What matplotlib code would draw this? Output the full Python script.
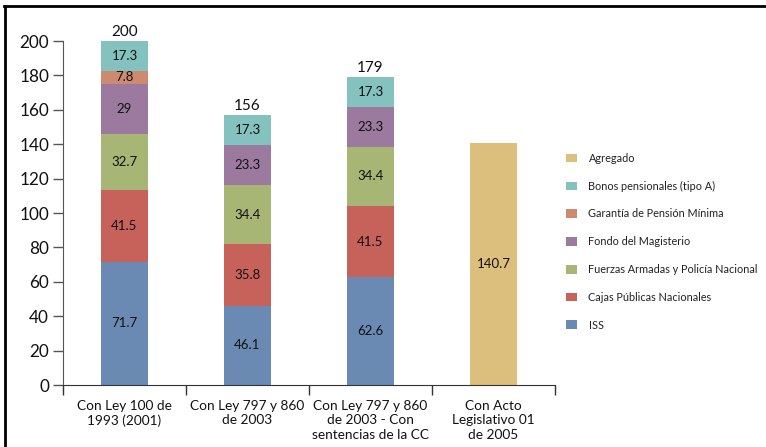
import matplotlib
matplotlib.use("Agg")
import matplotlib.pyplot as plt
from matplotlib.lines import Line2D
import numpy as np

plt.rcParams['font.family'] = ['Lato', 'DejaVu Sans']

categories = ["Con Ley 100 de\n1993 (2001)", "Con Ley 797 y 860\nde 2003",
              "Con Ley 797 y 860\nde 2003 - Con\nsentencias de la CC",
              "Con Acto\nLegislativo 01\nde 2005"]
series_names = ["ISS", "Cajas Públicas Nacionales", "Fuerzas Armadas y Policía Nacional",
                "Fondo del Magisterio", "Garantía de Pensión Mínima",
                "Bonos pensionales (tipo A)", "Agregado"]
iss = [71.7, 46.1, 62.6, 0]
cajas = [41.5, 35.8, 41.5, 0]
fuerzas = [32.7, 34.4, 34.4, 0]
fondo = [29, 23.3, 23.3, 0]
garantia = [7.8, 0, 0, 0]
bonos = [17.3, 17.3, 17.3, 0]
agregado = [0, 0, 0, 140.7]
totals = ["200", "156", "179", ""]
yticks = [0, 20, 40, 60, 80, 100, 120, 140, 160, 180, 200]

colors = ["#6B8AB3", "#C7625A", "#A7B575", "#9C7AA0", "#CD8A6E", "#84C2C0", "#DCBF7C"]
series = [iss, cajas, fuerzas, fondo, garantia, bonos, agregado]

fig = plt.figure(figsize=(7.66, 4.47), dpi=100)
ax = fig.add_axes([63/766, 1-385/447, (555-63)/766, (385-41)/447])

x = np.arange(len(categories))
bottom = np.zeros(len(categories))
handles = []
for vals, name, c in zip(series, series_names, colors):
    vals = np.array(vals, dtype=float)
    bars = ax.bar(x, vals, width=0.39, bottom=bottom, color=c, label=name, linewidth=0)
    labels = [("%g" % v) if v > 0 else "" for v in vals]
    ax.bar_label(bars, labels=labels, label_type='center', fontsize=9.5, color="#111111")
    handles.append(bars)
    bottom += vals

for xi, (t, b) in enumerate(zip(totals, bottom)):
    if t:
        ax.text(xi, b + 1.2, t, ha='center', va='bottom', fontsize=11, color="#111111")

ax.set_xlim(-0.5, 3.5)
ax.set_ylim(0, 200)
ax.set_yticks(yticks)
ax.tick_params(axis='y', labelsize=12.3, length=7, width=1, color="#555555", pad=3,
               labelcolor="#111111")
ax.set_xticks([-0.5, 0.5, 1.5, 2.5, 3.5])
ax.set_xticklabels([])
ax.set_xticks(x, minor=True)
ax.set_xticklabels(categories, minor=True, fontsize=9.8, linespacing=1.22, color="#111111")
ax.tick_params(axis='x', which='major', length=7, width=1, color="#333333")
ax.tick_params(axis='x', which='minor', length=0, pad=11)
for s in ['top', 'right']:
    ax.spines[s].set_visible(False)
ax.spines['left'].set_color("#555555")
ax.spines['bottom'].set_color("#333333")

leg = fig.legend(handles[::-1], series_names[::-1], loc='upper left',
                 bbox_to_anchor=(556/766, 1-143/447), frameon=False,
                 labelspacing=1.55, handlelength=1.0, handleheight=0.85,
                 handletextpad=1.1, prop={'family': ['Lato', 'DejaVu Sans'], 'size': 7.8})
for t in leg.get_texts():
    t.set_color("#222222")

# frame lines
fig.add_artist(Line2D([4/766, 1], [1-6/447, 1-6/447], transform=fig.transFigure, color='black', lw=2))
fig.add_artist(Line2D([5/766, 5/766], [0, 1-6/447], transform=fig.transFigure, color='black', lw=2))

fig.savefig("out.png", dpi=100)
